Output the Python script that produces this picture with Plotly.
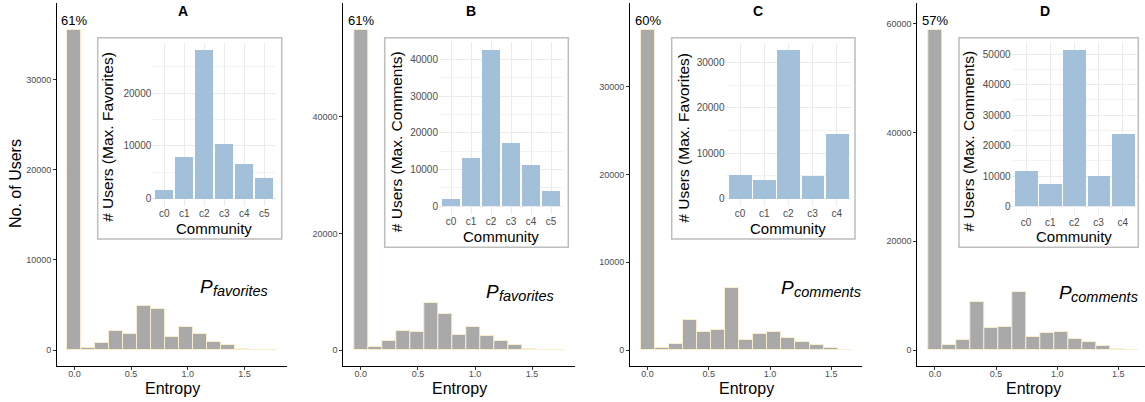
import plotly.graph_objects as go

W, H = 1145, 402
FONT = "Liberation Sans, Arial, Helvetica, sans-serif"

# ---- data -------------------------------------------------------------
panel_letters = ["A", "B", "C", "D"]
subscripts = ["favorites", "favorites", "comments", "comments"]
inset_titles = ["# Users (Max. Favorites)", "# Users (Max. Comments)",
                "# Users (Max. Favorites)", "# Users (Max. Comments)"]

# histogram bin widths on the entropy axis (bins start centred at 0)
bin_width_A = 0.123
bin_width_B = 0.123
bin_width_C = 0.115
bin_width_D = 0.115

# users per entropy bin
counts_A = [35500, 260, 810, 2140, 1810, 4870, 4580, 1440, 2580, 1810, 920, 590, 150, 40, 20]
counts_B = [54900, 510, 1540, 3300, 3080, 8030, 6210, 2620, 3870, 2390, 1540, 850, 230, 60, 20]
counts_C = [36440, 190, 720, 3370, 2040, 2270, 7110, 1140, 1820, 2040, 1320, 950, 570, 190, 20]
counts_D = [58830, 920, 1770, 8860, 3970, 4280, 10750, 2320, 3180, 3300, 2020, 1530, 790, 240, 30]

# users per community (inset bar charts)
communities_6 = ["c0", "c1", "c2", "c3", "c4", "c5"]
communities_5 = ["c0", "c1", "c2", "c3", "c4"]
community_A = [1640, 7890, 28140, 10350, 6560, 3910]
community_B = [2000, 13180, 42640, 17270, 11270, 4180]
community_C = [5280, 4110, 32720, 4990, 14230]
community_D = [11680, 7420, 51310, 10040, 23800]

# main histogram y tick spacing
main_dtick = [10000, 20000, 10000, 20000]

# ---- layout geometry (pixels) ------------------------------------------
main_x_px = [(57, 287), (343.3, 575), (630, 862.3), (917.3, 1149.3)]
main_top, main_zero, main_bottom = 3, 350, 366
inset_x_px = [(152.3, 276.3), (439, 563), (725.5, 851.2), (1011.6, 1137.2)]
inset_y_px = [(42.6, 206.1), (42.1, 214.1), (42.6, 206.1), (42.2, 214.5)]
box_px = [(97.7, 37.7, 281.7, 239), (384.7, 37.7, 568.3, 247.3),
          (671.7, 37.7, 855, 239), (959, 37.7, 1138.3, 247.3)]
inset_ytitle_x = [107.5, 396.7, 683.3, 968.3]
community_title_y = [228, 236.7, 228.3, 236.7]
letter_x = [183, 471, 757.7, 1045]
p_pos = [(198.3, 286), (484.3, 291), (779.3, 287.5), (1056.7, 292.5)]


def fx(px):
    return px / W


def fy(py):
    return 1 - py / H


bin_widths = [bin_width_A, bin_width_B, bin_width_C, bin_width_D]
counts = [counts_A, counts_B, counts_C, counts_D]
community_counts = [community_A, community_B, community_C, community_D]
community_labels = [communities_6, communities_6, communities_5, communities_5]

fig = go.Figure()
layout = dict(
    width=W, height=H,
    margin=dict(l=0, r=0, t=0, b=0),
    paper_bgcolor="white",
    plot_bgcolor="rgba(0,0,0,0)",
    showlegend=False,
    font=dict(family=FONT, color="black"),
    bargap=0,
)
annotations = []
shapes = []

tick_grey = "#4D4D4D"

for i in range(4):
    w = bin_widths[i]
    c = counts[i]
    n = len(c)
    centres = [k * w for k in range(n)]
    M = max(c)

    xa = f"x{2 * i + 1}" if i > 0 else "x"
    ya = f"y{2 * i + 1}" if i > 0 else "y"
    xa_key = "xaxis" if i == 0 else f"xaxis{2 * i + 1}"
    ya_key = "yaxis" if i == 0 else f"yaxis{2 * i + 1}"

    # ---- main histogram
    fig.add_trace(go.Bar(
        x=centres, y=c, width=[w] * n,
        marker=dict(color="#A9A9A9", line=dict(color="#F8EDCC", width=1)),
        xaxis=xa, yaxis=ya, hoverinfo="skip",
    ))

    lo = -0.5 * w - 0.05 * n * w
    hi = (n - 0.5) * w + 0.05 * n * w
    x0p, x1p = main_x_px[i]
    scale = (x1p - x0p) / (hi - lo)
    if x1p > W:
        hi = lo + (W - x0p) / scale
        x1p = W

    ylo = -0.05 * M
    yhi = ylo + (main_bottom - main_top) / (main_bottom - main_zero) * 0.05 * M

    layout[xa_key] = dict(
        domain=[fx(x0p), fx(x1p)], anchor=ya, range=[lo, hi],
        showline=True, linecolor="black", linewidth=1,
        ticks="outside", ticklen=3, tickcolor="#333333", tickwidth=1,
        tickvals=[0, 0.5, 1.0, 1.5], ticktext=["0.0", "0.5", "1.0", "1.5"],
        tickfont=dict(size=9, color=tick_grey, family=FONT),
        ticklabelstandoff=-4,
        showgrid=False, zeroline=False, fixedrange=True,
    )
    layout[ya_key] = dict(
        domain=[fy(main_bottom), fy(main_top)], anchor=xa, range=[ylo, yhi],
        showline=True, linecolor="black", linewidth=1,
        ticks="outside", ticklen=3, tickcolor="#333333", tickwidth=1,
        tick0=0, dtick=main_dtick[i], tickformat="d",
        tickfont=dict(size=9, color=tick_grey, family=FONT),
        showgrid=False, zeroline=False, fixedrange=True,
    )

    # share of users with zero entropy
    share = int(100 * c[0] / sum(c))
    annotations.append(dict(
        x=0, y=M, xref=xa, yref=ya, text=f"{share}%", showarrow=False,
        xanchor="center", yanchor="bottom", yshift=0,
        font=dict(size=13, color="black", family=FONT),
    ))

    # panel letter
    annotations.append(dict(
        x=fx(letter_x[i]), y=fy(11), xref="paper", yref="paper",
        text=f"<b>{panel_letters[i]}</b>", showarrow=False,
        xanchor="center", yanchor="middle",
        font=dict(size=14, color="black", family=FONT),
    ))

    # x-axis title
    annotations.append(dict(
        x=fx((main_x_px[i][0] + main_x_px[i][1]) / 2), y=fy(388),
        xref="paper", yref="paper", text="Entropy", showarrow=False,
        xanchor="center", yanchor="middle",
        font=dict(size=16, color="black", family=FONT),
    ))

    # P with subscript
    px_, py_ = p_pos[i]
    annotations.append(dict(
        x=fx(px_), y=fy(py_), xref="paper", yref="paper",
        text="<i>P</i>", showarrow=False, xanchor="left", yanchor="middle",
        font=dict(size=19, color="black", family=FONT),
    ))
    annotations.append(dict(
        x=fx(px_ + 12.4), y=fy(py_ + 4.5), xref="paper", yref="paper",
        text=f"<i>{subscripts[i]}</i>", showarrow=False,
        xanchor="left", yanchor="middle",
        font=dict(size=14.5, color="black", family=FONT),
    ))

    # ---- inset
    bx0, by0, bx1, by1 = box_px[i]
    shapes.append(dict(
        type="rect", xref="paper", yref="paper",
        x0=fx(bx0), x1=fx(bx1), y0=fy(by1), y1=fy(by0),
        line=dict(color="#BDBDBD", width=1.5), fillcolor="white", layer="below",
    ))

    cc = community_counts[i]
    labels = community_labels[i]
    m = max(cc)
    ixa = f"x{2 * i + 2}"
    iya = f"y{2 * i + 2}"
    fig.add_trace(go.Bar(
        x=labels, y=cc, width=0.945,
        marker=dict(color="#A2C0D9", line=dict(width=0)),
        xaxis=ixa, yaxis=iya, hoverinfo="skip",
    ))
    ix0, ix1 = inset_x_px[i]
    iy0, iy1 = inset_y_px[i]
    layout[f"xaxis{2 * i + 2}"] = dict(
        domain=[fx(ix0), fx(ix1)], anchor=iya, type="category",
        range=[-0.6, len(labels) - 0.4],
        showline=False, ticks="", showgrid=True, gridcolor="#EBEBEB", gridwidth=1,
        tickfont=dict(size=10, color=tick_grey, family=FONT),
        zeroline=False, fixedrange=True,
    )
    layout[f"yaxis{2 * i + 2}"] = dict(
        domain=[fy(iy1), fy(iy0)], anchor=ixa,
        range=[-0.05 * m, 1.05 * m],
        showline=False, ticks="", showgrid=True, gridcolor="#EBEBEB", gridwidth=1,
        tick0=0, dtick=10000, tickformat="d",
        minor=dict(showgrid=True, dtick=5000, gridcolor="#F3F3F3", gridwidth=0.6),
        tickfont=dict(size=10, color=tick_grey, family=FONT),
        zeroline=False, fixedrange=True,
    )
    annotations.append(dict(
        x=fx(inset_ytitle_x[i]), y=fy((by0 + by1) / 2 - 1),
        xref="paper", yref="paper", text=inset_titles[i], showarrow=False,
        textangle=-90, xanchor="center", yanchor="middle",
        font=dict(size=15.5, color="black", family=FONT),
    ))
    annotations.append(dict(
        x=fx((ix0 + ix1) / 2), y=fy(community_title_y[i]),
        xref="paper", yref="paper", text="Community", showarrow=False,
        xanchor="center", yanchor="middle",
        font=dict(size=15, color="black", family=FONT),
    ))

# shared y-axis title
annotations.append(dict(
    x=fx(15), y=fy(184), xref="paper", yref="paper", text="No. of Users",
    showarrow=False, textangle=-90, xanchor="center", yanchor="middle",
    font=dict(size=16, color="black", family=FONT),
))

layout["annotations"] = annotations
layout["shapes"] = shapes
fig.update_layout(**layout)
fig.write_html("out.html")
